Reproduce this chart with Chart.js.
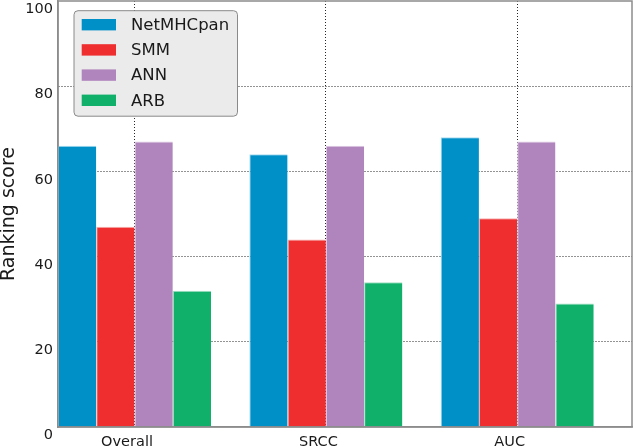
<!DOCTYPE html>
<html><head><meta charset="utf-8">
<script src="https://cdn.jsdelivr.net/npm/chart.js@4/dist/chart.umd.min.js"></script>
<style>html,body{margin:0;padding:0;background:#fff}#wrap{width:633px;height:448px}</style>
</head><body><div id="wrap"><canvas id="c" width="633" height="448"></canvas></div>
<script>
const categories = ['Overall', 'SRCC', 'AUC'];
const netmhcpan = [66, 64, 68];
const smm = [47, 44, 49];
const ann = [67, 66, 67];
const arb = [32, 34, 29];
const yTicks = [0, 20, 40, 60, 80, 100];
const seriesNames = ['NetMHCpan', 'SMM', 'ANN', 'ARB'];

const seriesColors = ['#0090c8', '#ee2e2f', '#b084bc', '#10b06b'];
const edgeColors = ['#a8dcf0', '#f6b0b0', '#ddc8e4', '#a4e0c4'];
const FONT = 'DejaVu Sans';
Chart.defaults.font.family = FONT;

const toPoints = arr => arr.map((v, i) => ({ x: i, y: v }));
const datasets = [netmhcpan, smm, ann, arb].map((vals, k) => ({
  label: seriesNames[k],
  data: toPoints(vals),
  backgroundColor: seriesColors[k],
  borderColor: edgeColors[k],
  borderWidth: { left: 1, top: 1, right: 0, bottom: 0 },
  categoryPercentage: 0.8,
  barPercentage: 1.0
}));

const gridDots = 'rgba(0,0,0,0.85)';

const insetLegend = {
  id: 'insetLegend',
  afterDraw(chart) {
    const { ctx, chartArea: a } = chart;
    ctx.save();
    ctx.strokeStyle = '#8c8c8c';
    ctx.lineWidth = 1.5;
    ctx.setLineDash([]);
    ctx.strokeRect(a.left, a.top, a.right - a.left, a.bottom - a.top);
    const bx = a.left + 16, by = a.top + 9.7, bw = 163.5, bh = 105.5, r = 4;
    ctx.beginPath();
    ctx.moveTo(bx + r, by);
    ctx.arcTo(bx + bw, by, bx + bw, by + bh, r);
    ctx.arcTo(bx + bw, by + bh, bx, by + bh, r);
    ctx.arcTo(bx, by + bh, bx, by, r);
    ctx.arcTo(bx, by, bx + bw, by, r);
    ctx.closePath();
    ctx.fillStyle = '#ebebeb';
    ctx.fill();
    ctx.lineWidth = 1;
    ctx.strokeStyle = '#8a8a8a';
    ctx.stroke();
    ctx.font = '16.5px "' + FONT + '"';
    ctx.textBaseline = 'middle';
    ctx.textAlign = 'left';
    chart.data.datasets.forEach((ds, i) => {
      const cy = by + 14 + i * 25.2;
      ctx.fillStyle = ds.backgroundColor;
      ctx.fillRect(bx + 7.7, cy - 5.7, 34.3, 11.4);
      ctx.fillStyle = '#1a1a1a';
      ctx.fillText(ds.label, bx + 57, cy + 1);
    });
    ctx.restore();
  }
};

new Chart(document.getElementById('c'), {
  type: 'bar',
  data: { datasets },
  options: {
    responsive: false,
    animation: false,
    devicePixelRatio: 1,
    layout: { padding: { top: 1, right: 1, left: 0, bottom: 0 } },
    plugins: { legend: { display: false }, tooltip: { enabled: false } },
    scales: {
      x: {
        type: 'linear', min: -0.4, max: 2.6, z: 1, offset: false, bounds: 'data',
        afterBuildTicks: s => { s.ticks = categories.map((_, i) => ({ value: i })); },
        afterFit: s => { s.height = 21; s.paddingLeft = 0; s.paddingRight = 0; },
        ticks: {
          callback: v => categories[v],
          labelOffset: -7.5, padding: 7, autoSkip: false, maxRotation: 0,
          font: { family: FONT, size: 14.5 }, color: '#1a1a1a'
        },
        grid: { color: gridDots, lineWidth: 1, drawTicks: false, offset: false },
        border: { display: true, color: '#8c8c8c', width: 1.5, dash: [1, 2] }
      },
      y: {
        min: 0, max: 100, z: 1,
        afterBuildTicks: s => { s.ticks = yTicks.map(v => ({ value: v })); },
        afterFit: s => { s.width = 58; s.paddingTop = 0; s.paddingBottom = 0; },
        ticks: {
          labelOffset: 8.5, padding: 5,
          font: { family: FONT, size: 14.5 }, color: '#1a1a1a'
        },
        grid: {
          color: c => (c.tick && (c.tick.value === 0 || c.tick.value === 100)) ? 'rgba(0,0,0,0)' : gridDots,
          lineWidth: 1, drawTicks: false
        },
        border: { display: true, color: '#8c8c8c', width: 1.5, dash: [1, 2] },
        title: {
          display: true, text: 'Ranking score', color: '#1a1a1a',
          font: { family: FONT, size: 19, lineHeight: 1 }, padding: { top: 0, bottom: 0 }
        }
      }
    }
  },
  plugins: [insetLegend]
});
</script>
</body></html>
